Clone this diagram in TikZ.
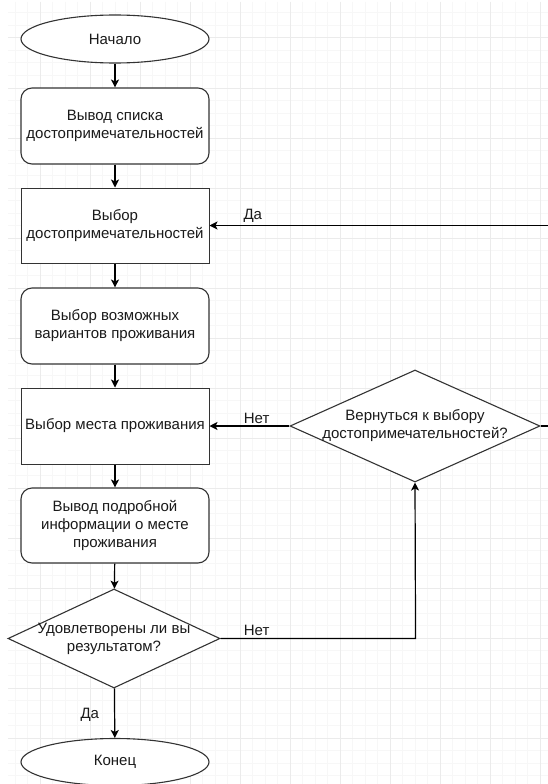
\documentclass[tikz,border=0pt]{standalone}
\usepackage{fontspec}
\setmainfont{Liberation Sans}
\usetikzlibrary{shapes.geometric, arrows.meta, calc}

\definecolor{ink}{HTML}{1A1A1A}
\definecolor{edge}{HTML}{333333}
\definecolor{gridminor}{HTML}{F7F7F7}
\definecolor{gridmajor}{HTML}{EBEBEB}

\tikzset{
  base/.style={draw=edge, line width=1.1pt, fill=white, text=ink,
    font=\fontsize{15}{18}\selectfont, align=center, inner sep=0pt},
  terminal/.style={base, ellipse, minimum width=188pt, minimum height=48pt},
  process/.style={base, rectangle, line width=1pt, minimum width=188pt, minimum height=76pt},
  roundproc/.style={process, line width=1.1pt, rounded corners=11pt},
  decision/.style={base, diamond},
  txt/.style={text=ink, font=\fontsize{15}{18}\selectfont, align=center, inner sep=0pt},
  lbl/.style={text=ink, font=\fontsize{15}{18}\selectfont, inner sep=3pt},
  flow/.style={draw=black, line width=1.2pt, -{Stealth[length=8pt, width=8pt, inset=2pt]}}
}

\begin{document}
\begin{tikzpicture}[x=1pt, y=-1pt]
  \useasboundingbox (0,0) rectangle (548,784);
  \clip (0,0) rectangle (548,784);
  \fill[white] (0,0) rectangle (548,784);

  % background grid: fine lines every 12.5, strong lines every 50
  \foreach \i in {0,...,42} {
    \draw[gridminor, line width=1pt] ({15+12.5*\i},2) -- ({15+12.5*\i},784);
  }
  \foreach \j in {0,...,62} {
    \draw[gridminor, line width=1pt] (8,{13+12.5*\j}) -- (548,{13+12.5*\j});
  }
  \foreach \i in {0,...,10} {
    \draw[gridmajor, line width=1pt] ({40+50*\i},2) -- ({40+50*\i},784);
  }
  \foreach \j in {0,...,14} {
    \draw[gridmajor, line width=1pt] (8,{38+50*\j}) -- (548,{38+50*\j});
  }

  % main column
  \node[terminal]  (start) at (115,39)    {Начало};
  \node[roundproc, minimum height=76pt] (list) at (115,126) {Вывод списка\\достопримечательностей};
  \node[process, minimum height=75pt]   (pick) at (115,225.5) {Выбор\\достопримечательностей};
  \node[roundproc] (opts) at (115,326)    {Выбор возможных\\вариантов проживания};
  \node[process]   (place) at (115,426)   {Выбор места проживания};
  \node[roundproc, minimum height=75pt] (info) at (115,525.5) {Вывод подробной\\информации о месте\\проживания};
  \node[decision, minimum width=212pt, minimum height=99pt] (sat) at (114,638.5) {};
  \node[txt] at (sat) {Удовлетворены ли вы\\результатом?};
  \node[terminal, minimum height=47pt] (stop) at (115,762) {Конец};

  % side decision
  \node[decision, minimum width=250pt, minimum height=112pt] (back) at (415,426) {};
  \node[txt] at (back) {Вернуться к выбору\\достопримечательностей?};

  \coordinate (ret) at ($(back.east)+(30,0)$);

  % connectors
  \draw[flow] (start) -- (list);
  \draw[flow] (list) -- (pick);
  \draw[flow] (pick) -- (opts);
  \draw[flow] (opts) -- (place);
  \draw[flow] (place) -- (info);
  \draw[flow] (info) -- (sat);
  \draw[flow] (sat) -- node[lbl, left=12pt, pos=0.54] {Да} (stop);
  \draw[flow] (sat.east) -- node[lbl, above, pos=0.185, yshift=-1pt] {Нет} ++(195,0) -- (back.south);
  \draw[flow] (back.west) -- node[lbl, above, pos=0.41, yshift=-1pt] {Нет} (place.east);
  \draw[flow] (back.east) -- (ret) |- node[lbl, above, pos=0.94, yshift=-1pt] {Да} (pick.east);
\end{tikzpicture}
\end{document}
